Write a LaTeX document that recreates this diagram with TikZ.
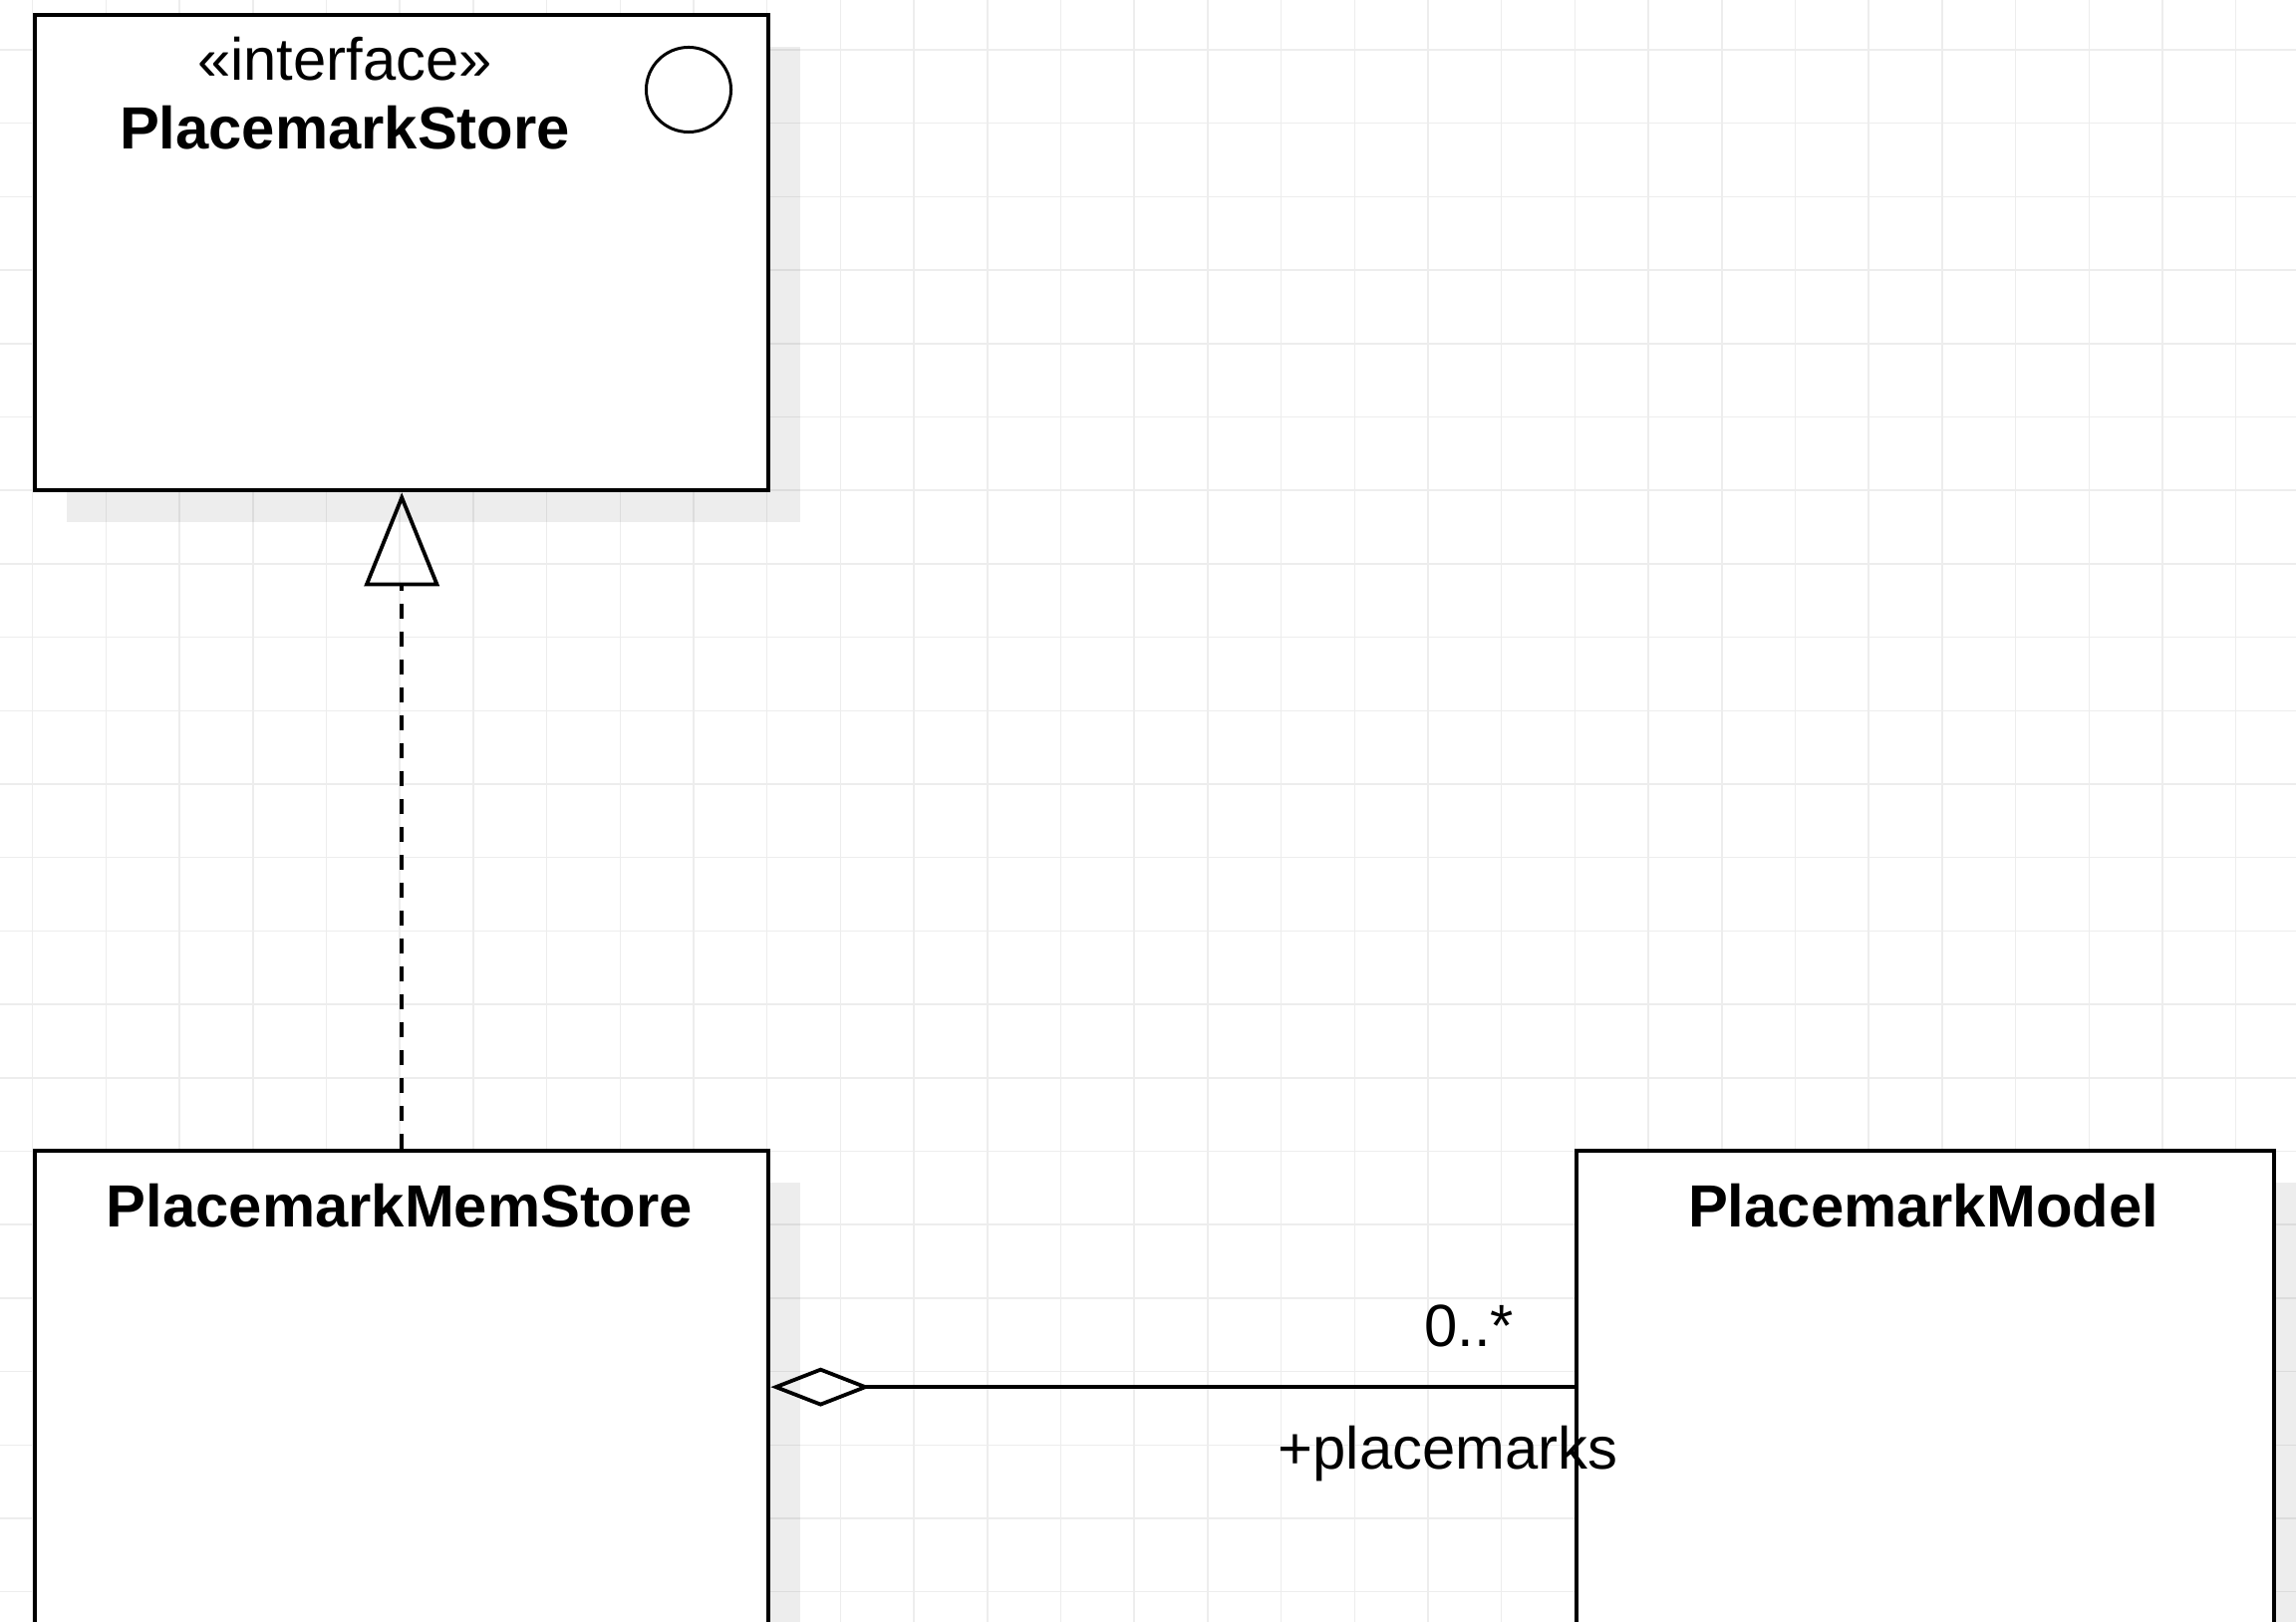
\documentclass[tikz,border=0pt]{standalone}
\usepackage{fontspec}
\setmainfont{Liberation Sans}
\usetikzlibrary{arrows.meta,shadows}

\begin{document}
\begin{tikzpicture}[x=0.01cm, y=-0.01cm,
  gridline/.style={black!7, line width=0.015cm},
  classbox/.style={draw, fill=white, line width=0.04cm, inner sep=0pt, anchor=north west,
    drop shadow={shadow xshift=0.32cm, shadow yshift=-0.32cm, fill=black, opacity=0.07}},
  title/.style={font=\fontsize{17}{20}\selectfont\bfseries, anchor=base, inner sep=0pt},
  label/.style={font=\fontsize{17}{20}\selectfont, inner sep=0pt},
  realize/.style={line width=0.038cm, dash pattern=on 0.15cm off 0.13cm,
    -{Triangle[open, length=0.94cm, width=0.75cm]}},
  aggr/.style={line width=0.038cm, {Diamond[open, length=1.0cm, width=0.39cm]}-}]
\useasboundingbox (0,0) rectangle (2304,1628);
\clip (0,0) rectangle (2304,1628);
\fill[white] (0,0) rectangle (2304,1628);

\foreach \i in {0,...,31} \draw[gridline] ({32.7+73.7*\i},0) -- ++(0,1628);
\foreach \j in {0,...,21} \draw[gridline] (0,{50+73.7*\j}) -- ++(2304,0);

\node[classbox, minimum width=7.36cm, minimum height=4.77cm] (store) at (33,13) {};
\node[classbox, minimum width=7.36cm, minimum height=7cm] (mem) at (33,1153) {};
\node[classbox, minimum width=7.0cm, minimum height=7cm] (model) at (1580,1153) {};

\node[label, anchor=base] (stereo) at (346,81) {«interface»};
\node[title] (storetitle) at (346,150) {PlacemarkStore};
\node[draw, circle, line width=0.03cm, minimum size=0.85cm, inner sep=0pt] (icon) at (691,90) {};
\node[title] (memtitle) at (401,1231) {PlacemarkMemStore};
\node[title] (modeltitle) at (1930,1231) {PlacemarkModel};

\draw[realize] (mem.north) -- (store.south);
\draw[aggr] ([yshift=-2.39cm]mem.north east) -- ([yshift=-2.39cm]model.north west)
  node[label, pos=1, anchor=base east, xshift=-0.59cm, yshift=0.41cm] (mult) {0..*}
  node[label, pos=1, anchor=base, xshift=-1.27cm, yshift=-0.82cm] (role) {+placemarks};

\end{tikzpicture}
\end{document}
